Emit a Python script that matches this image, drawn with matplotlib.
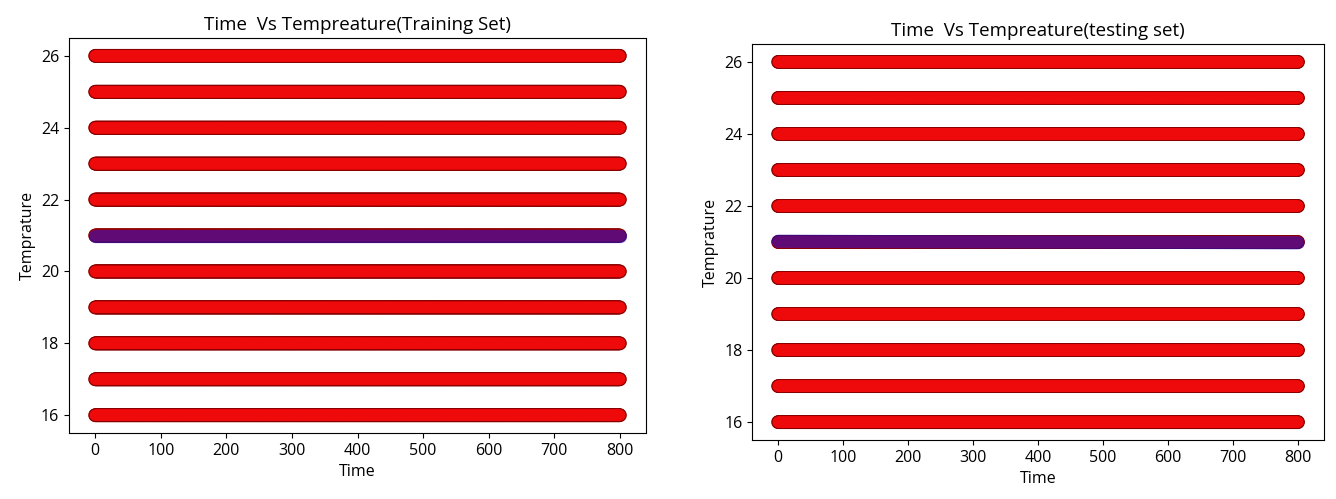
import numpy as np
import matplotlib
matplotlib.use("Agg")
import matplotlib.pyplot as plt

# Data
temperatures = [16, 17, 18, 19, 20, 21, 22, 23, 24, 25, 26]
time_start, time_end, time_step = 0, 800, 1
train_fit_time = [0, 800]
train_fit_temp = [21.0, 21.0]
test_fit_time = [0, 800]
test_fit_temp = [21.02, 20.98]
yticks = [16, 18, 20, 22, 24, 26]
xticks = [0, 100, 200, 300, 400, 500, 600, 700, 800]

plt.rcParams['font.family'] = ['Open Sans', 'DejaVu Sans']

fig = plt.figure(figsize=(13.36, 4.99), dpi=100)
ax1 = fig.add_axes([0.0516, 0.132, 0.432, 0.792])
ax2 = fig.add_axes([0.563, 0.118, 0.428, 0.794])

times = np.arange(time_start, time_end + 1, time_step)
tt, yy = np.meshgrid(times, temperatures)
tt = tt.ravel()
yy = yy.ravel()

def draw(ax, fit_t, fit_y, title):
    # outline layer then fill layer, for scatter dots with dark edges
    ax.scatter(tt, yy, s=100, c='#8a0000', edgecolors='none', zorder=2)
    ax.scatter(tt, yy, s=66, c='#ee0a0a', edgecolors='none', zorder=2.5)
    ax.plot(fit_t, fit_y, color='#2a0aa0', linewidth=9.5, alpha=0.72,
            solid_capstyle='round', zorder=3)
    ax.set_title(title, fontsize=13.5)
    ax.set_xlabel('Time', fontsize=11.5)
    ax.set_ylabel('Temprature', fontsize=11.5)
    ax.set_xticks(xticks)
    ax.set_yticks(yticks)
    ax.tick_params(labelsize=11.5)
    ax.set_xlim(-40, 840)
    ax.set_ylim(15.5, 26.5)

draw(ax1, train_fit_time, train_fit_temp, 'Time  Vs Tempreature(Training Set)')
draw(ax2, test_fit_time, test_fit_temp, 'Time  Vs Tempreature(testing set)')

fig.savefig('out.png', dpi=100)
